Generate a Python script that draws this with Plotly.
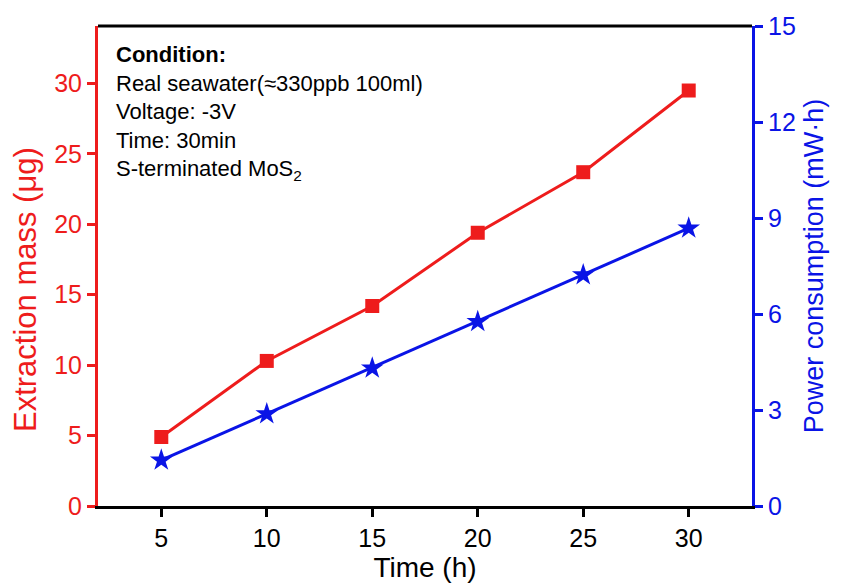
import plotly.graph_objects as go

time_h = [5, 10, 15, 20, 25, 30]
extraction_mass = [4.9, 10.3, 14.2, 19.4, 23.7, 29.5]
power_consumption = [1.43, 2.88, 4.31, 5.76, 7.22, 8.68]

RED = "#ee1c1c"
BLUE = "#0a14e6"
FONT = "Liberation Sans, Arial, sans-serif"

fig = go.Figure()
fig.add_trace(go.Scatter(x=time_h, y=extraction_mass, mode="lines+markers",
                         line=dict(color=RED, width=3),
                         marker=dict(symbol="square", size=14, color=RED),
                         yaxis="y", showlegend=False))
fig.add_trace(go.Scatter(x=time_h, y=power_consumption, mode="lines+markers",
                         line=dict(color=BLUE, width=3),
                         marker=dict(symbol="star", size=17, color=BLUE),
                         yaxis="y2", showlegend=False))

fig.update_layout(
    width=843, height=585,
    margin=dict(l=98, r=91, t=22, b=79),
    paper_bgcolor="white", plot_bgcolor="white",
    font=dict(family=FONT, size=20, color="black"),
    xaxis=dict(range=[2, 33], tickvals=[5, 10, 15, 20, 25, 30],
               showline=True, linecolor="black", linewidth=3,
               ticks="outside", ticklen=8, tickwidth=3, tickcolor="black",
               showgrid=False, zeroline=False,
               tickfont=dict(size=25, color="black"),
               title=dict(text="Time (h)", font=dict(size=28, color="black"), standoff=1)),
    yaxis=dict(range=[0, 34.08], tickvals=[0, 5, 10, 15, 20, 25, 30],
               showline=True, linecolor=RED, linewidth=3,
               ticks="outside", ticklen=8, tickwidth=3, tickcolor=RED,
               showgrid=False, zeroline=False,
               tickfont=dict(size=25, color=RED)),
    yaxis2=dict(range=[0, 15], tickvals=[0, 3, 6, 9, 12, 15], overlaying="y", side="right",
                showline=True, linecolor=BLUE, linewidth=3,
                ticks="outside", ticklen=8, tickwidth=3, tickcolor=BLUE,
                showgrid=False, zeroline=False,
                tickfont=dict(size=25, color=BLUE),
                title=dict(text="Power consumption (mW·h)", font=dict(size=27, color=BLUE), standoff=10)),
)

fig.add_shape(type="line", xref="paper", yref="paper", x0=0, x1=1, y0=1, y1=1,
              line=dict(color="black", width=3))

fig.add_annotation(
    xref="paper", yref="paper", x=-0.1116, y=0.45, xanchor="center", yanchor="middle",
    textangle=-90, showarrow=False, text="Extraction mass (μg)",
    font=dict(family=FONT, size=31, color=RED),
)

fig.add_annotation(
    xref="paper", yref="paper", x=0.025, y=0.97, xanchor="left", yanchor="top",
    align="left", showarrow=False,
    text=("<b>Condition:</b><br>Real seawater(≈330ppb 100ml)<br>Voltage: -3V<br>"
          "Time: 30min<br>S-terminated MoS<sub>2</sub>"),
    font=dict(family=FONT, size=22, color="black"),
)

fig.write_html("out.html")
